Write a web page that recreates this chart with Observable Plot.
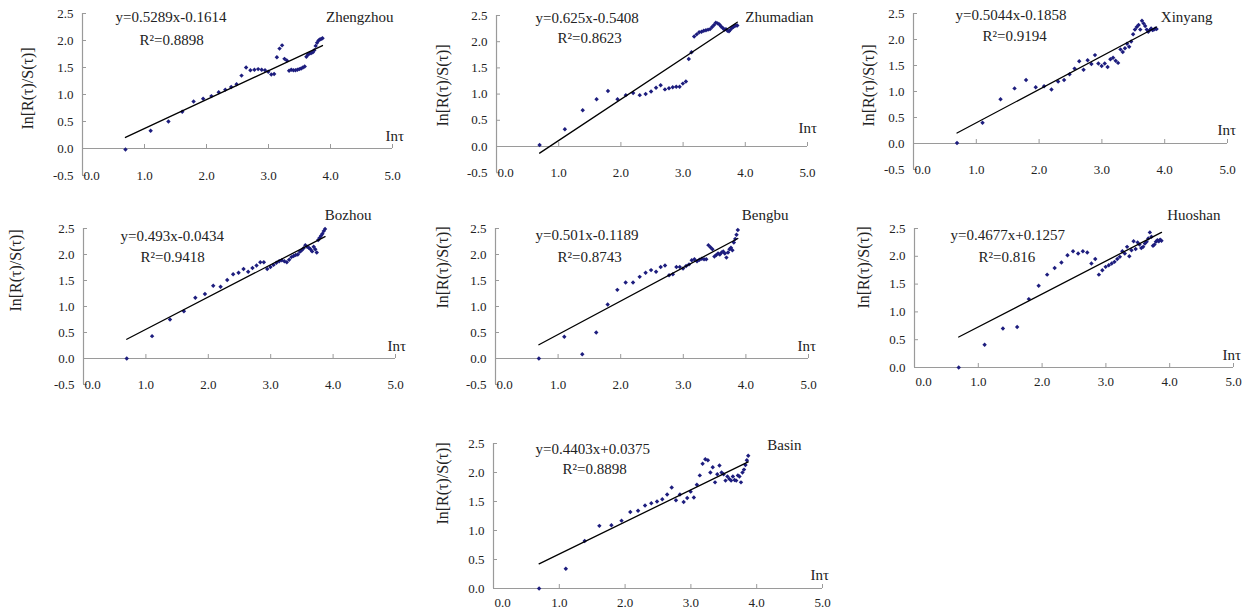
<!DOCTYPE html>
<html><head><meta charset="utf-8">
<script src="https://cdn.jsdelivr.net/npm/d3@7"></script>
<script src="https://cdn.jsdelivr.net/npm/@observablehq/plot@0.6"></script>
<style>
body{margin:0;background:#fff;}
#chart{position:relative;width:1247px;height:613px;overflow:hidden;background:#fff;font-family:"Liberation Serif","Times New Roman",serif;}
#chart svg{position:absolute;overflow:visible;max-width:none;}
</style></head><body><div id="chart"></div>
<script>
// ln(tau), tau = 2..48
const lnTau = [0.693,1.099,1.386,1.609,1.792,1.946,2.079,2.197,2.303,2.398,2.485,2.565,2.639,2.708,2.773,2.833,2.890,2.944,2.996,3.045,3.091,3.135,3.178,3.219,3.258,3.296,3.332,3.367,3.401,3.434,3.466,3.497,3.526,3.555,3.584,3.611,3.638,3.664,3.689,3.714,3.738,3.761,3.784,3.807,3.829,3.850,3.871];

// ln[R(tau)/S(tau)] per station
const zhengzhou = [-0.02,0.33,0.50,0.68,0.87,0.92,0.97,1.04,1.09,1.14,1.19,1.35,1.50,1.45,1.46,1.47,1.46,1.45,1.42,1.37,1.38,1.69,1.85,1.91,1.66,1.63,1.44,1.46,1.45,1.45,1.46,1.47,1.48,1.50,1.52,1.70,1.74,1.76,1.77,1.78,1.82,1.90,1.96,2.00,2.02,2.03,2.04];
const zhumadian = [0.03,0.33,0.69,0.90,1.06,0.90,0.98,1.02,0.98,1.00,1.05,1.12,1.17,1.09,1.11,1.13,1.14,1.14,1.20,1.24,1.67,1.80,2.10,2.14,2.18,2.19,2.21,2.22,2.23,2.24,2.28,2.32,2.36,2.35,2.33,2.29,2.26,2.23,2.24,2.21,2.20,2.23,2.26,2.28,2.30,2.31,2.31];
const xinyang = [0.01,0.40,0.85,1.06,1.22,1.08,1.10,1.04,1.19,1.22,1.33,1.44,1.58,1.42,1.60,1.53,1.70,1.54,1.49,1.54,1.47,1.62,1.65,1.59,1.55,1.81,1.76,1.83,1.92,1.86,1.96,2.10,2.19,2.24,2.28,2.19,2.36,2.31,2.26,2.19,2.15,2.18,2.21,2.18,2.19,2.21,2.20];
const bozhou = [0.00,0.43,0.75,0.91,1.17,1.24,1.40,1.38,1.51,1.62,1.65,1.72,1.67,1.74,1.79,1.85,1.85,1.72,1.76,1.80,1.84,1.87,1.89,1.87,1.85,1.90,1.95,1.97,1.99,2.00,2.05,2.08,2.12,2.18,2.15,2.13,2.10,2.06,2.15,2.10,2.04,2.28,2.32,2.36,2.40,2.45,2.49];
const bengbu = [0.00,0.42,0.08,0.50,1.04,1.32,1.46,1.46,1.57,1.65,1.70,1.67,1.76,1.79,1.60,1.62,1.76,1.76,1.73,1.78,1.81,1.89,1.91,1.87,1.90,1.92,1.91,1.91,2.18,2.14,2.10,1.96,1.99,2.02,2.00,2.04,2.06,2.02,1.94,2.04,2.10,2.13,2.08,2.23,2.30,2.38,2.47];
const huoshan = [0.00,0.41,0.70,0.73,1.23,1.47,1.67,1.79,1.89,2.02,2.09,2.05,2.09,2.07,1.87,1.95,1.67,1.75,1.81,1.84,1.87,1.90,1.95,1.99,2.09,2.05,2.17,2.00,2.11,2.27,2.13,2.25,2.21,2.15,2.17,2.23,2.26,2.32,2.43,2.35,2.19,2.21,2.26,2.29,2.27,2.30,2.28];
const basin = [0.00,0.34,0.82,1.08,1.09,1.17,1.32,1.34,1.43,1.47,1.50,1.54,1.62,1.74,1.52,1.62,1.49,1.56,1.67,1.57,1.79,1.95,2.15,2.23,2.21,2.00,2.09,1.83,1.97,2.12,2.00,1.97,1.86,1.93,1.89,1.86,1.93,1.87,1.86,1.95,1.93,1.83,2.00,2.05,2.13,2.21,2.29];

const series = [zhengzhou, zhumadian, xinyang, bozhou, bengbu, huoshan, basin];
const stations = ["Zhengzhou","Zhumadian","Xinyang","Bozhou","Bengbu","Huoshan","Basin"];
const equations = ["y=0.5289x-0.1614","y=0.625x-0.5408","y=0.5044x-0.1858","y=0.493x-0.0434","y=0.501x-0.1189","y=0.4677x+0.1257","y=0.4403x+0.0375"];
const rSquared = ["0.8898","0.8623","0.9194","0.9418","0.8743","0.816","0.8898"];
const xTicks = [0,1,2,3,4,5];
const yTicksWithNeg = [-0.5,0,0.5,1,1.5,2,2.5];
const yTicksPos = [0,0.5,1,1.5,2,2.5];
const yTitle = "In[R(τ)/S(τ)]";
const xTitle = "Inτ";

// layout (page pixels)
const layout = [
  {ax0:82, ax5:392, py0:148, py25:13, ymin:-0.5, eq:[115,17], r2:[139,40], name:[393,17], lnt:[385,136], title:[27,88]},
  {ax0:496, ax5:807, py0:146, py25:15, ymin:-0.5, eq:[535,18], r2:[557,38], name:[813,17], lnt:[798,128], title:[442,85]},
  {ax0:913, ax5:1227, py0:143, py25:13, ymin:-0.5, eq:[955,15], r2:[982,36], name:[1212,17], lnt:[1217,130], title:[868,85]},
  {ax0:83, ax5:395, py0:358, py25:228, ymin:-0.5, eq:[120,236], r2:[140,257], name:[371,215], lnt:[387,346], title:[15,270]},
  {ax0:495, ax5:808, py0:358, py25:228, ymin:-0.5, eq:[535,235], r2:[557,257], name:[788,215], lnt:[797,346], title:[442,267]},
  {ax0:914, ax5:1233, py0:367, py25:228, ymin:0, eq:[950,235], r2:[978,257], name:[1220,215], lnt:[1222,355], title:[863,267]},
  {ax0:493, ax5:822, py0:588, py25:443, ymin:0, eq:[535,449], r2:[562,469], name:[801,445], lnt:[810,575], title:[442,483]}
];

const FONT = '"Liberation Serif","Times New Roman",serif';
const AXIS = "#9a9a9a";
const INK = "#222";
const DOT = "#1d1d7e";
const ML = 80, MR = 25, MT = 30, MB = 25;
const container = document.getElementById("chart");
const fmt = d => d.toFixed(1);

layout.forEach((p, i) => {
  const innerW = p.ax5 - p.ax0;
  const unitX = innerW / 5;
  const unitY = (p.py0 - p.py25) / 2.5;
  const innerH = (2.5 - p.ymin) * unitY;
  const data = lnTau.map((x, j) => ({x, y: series[i][j]}));
  const yTicks = p.ymin < 0 ? yTicksWithNeg : yTicksPos;
  const ox = px => px - p.ax0;
  const oy = py => py - p.py25;
  const txt = (s, pos, opts) => Plot.text([s], {text: d => d, frameAnchor: "top-left", dx: ox(pos[0]), dy: oy(pos[1]), lineAnchor: "middle", fill: INK, ...opts});
  const xLabelY = p.ymin < 0 ? p.ymin : 0;
  const xLabelDy = p.ymin < 0 ? 0 : 14;
  const svg = Plot.plot({
    width: ML + innerW + MR,
    height: MT + innerH + MB,
    marginLeft: ML, marginRight: MR, marginTop: MT, marginBottom: MB,
    style: {fontFamily: FONT, fontSize: "13px", background: "transparent", overflow: "visible"},
    x: {domain: [0, 5], axis: null},
    y: {domain: [p.ymin, 2.5], axis: null},
    marks: [
      Plot.ruleX([0], {y1: p.ymin, y2: 2.5, stroke: AXIS, strokeWidth: 1.2}),
      Plot.ruleY([0], {x1: 0, x2: 5, stroke: AXIS, strokeWidth: 1.2}),
      // inside tick marks
      Plot.ruleX(xTicks.slice(1), {x: d => d, y1: 0, y2: 4 / unitY, stroke: AXIS}),
      Plot.ruleY(yTicks.filter(d => d !== 0), {y: d => d, x1: 0, x2: 4 / unitX, stroke: AXIS}),
      Plot.axisY(yTicks, {anchor: "left", tickSize: 0, tickPadding: 9, fill: INK, tickFormat: fmt, fontSize: 13, label: null}),
      Plot.text(xTicks.slice(0, 1), {x: d => d, y: xLabelY, dy: xLabelDy, dx: 1, text: fmt, textAnchor: "start", fontSize: 13, fill: INK}),
      Plot.text(xTicks.slice(1), {x: d => d, y: xLabelY, dy: xLabelDy, text: fmt, fontSize: 13, fill: INK}),
      Plot.dot(data, {x: "x", y: "y", symbol: "diamond2", r: 2, fill: DOT, stroke: "none"}),
      Plot.linearRegressionY(data, {x: "x", y: "y", ci: 0, stroke: "#000", strokeWidth: 1.3}),
      txt(equations[i], p.eq, {textAnchor: "start", fontSize: 15}),
      txt("R\u00B2=" + rSquared[i], p.r2, {textAnchor: "start", fontSize: 15}),
      txt(stations[i], p.name, {textAnchor: "end", fontSize: 15}),
      txt(xTitle, p.lnt, {textAnchor: "start", fontSize: 15}),
      txt(yTitle, p.title, {textAnchor: "middle", rotate: -90, fontSize: 16})
    ]
  });
  svg.style.left = (p.ax0 - ML) + "px";
  svg.style.top = (p.py25 - MT) + "px";
  container.appendChild(svg);
});
</script>
</body></html>
